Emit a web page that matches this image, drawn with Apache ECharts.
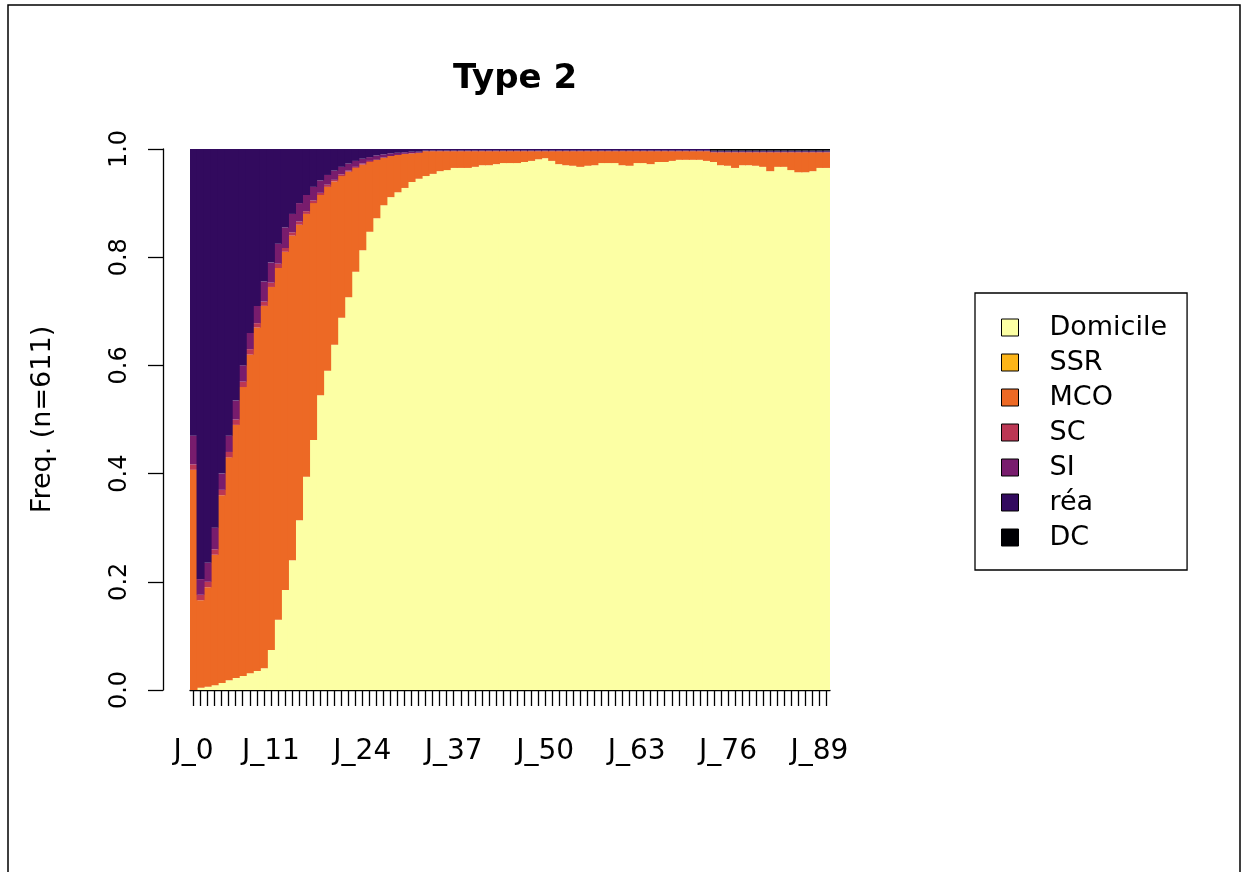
<!DOCTYPE html>
<html><head><meta charset="utf-8">
<script src="https://cdn.jsdelivr.net/npm/echarts@6/dist/echarts.min.js"></script>
<style>html,body{margin:0;padding:0;background:#fff}#c{width:1247px;height:872px}</style>
</head><body><div id="c"></div>
<script>
// categories J_0 ... J_90
const categories = ["J_0","J_1","J_2","J_3","J_4","J_5","J_6","J_7","J_8","J_9",
"J_10","J_11","J_12","J_13","J_14","J_15","J_16","J_17","J_18","J_19",
"J_20","J_21","J_22","J_23","J_24","J_25","J_26","J_27","J_28","J_29",
"J_30","J_31","J_32","J_33","J_34","J_35","J_36","J_37","J_38","J_39",
"J_40","J_41","J_42","J_43","J_44","J_45","J_46","J_47","J_48","J_49",
"J_50","J_51","J_52","J_53","J_54","J_55","J_56","J_57","J_58","J_59",
"J_60","J_61","J_62","J_63","J_64","J_65","J_66","J_67","J_68","J_69",
"J_70","J_71","J_72","J_73","J_74","J_75","J_76","J_77","J_78","J_79",
"J_80","J_81","J_82","J_83","J_84","J_85","J_86","J_87","J_88","J_89","J_90"];
const shownLabels = ["J_0","J_11","J_24","J_37","J_50","J_63","J_76","J_89"];
const yTicks = [0, 0.2, 0.4, 0.6, 0.8, 1.0];

const states = ["Domicile","SSR","MCO","SC","SI","réa","DC"];
const stateColors = ["#FCFFA4","#FCB519","#ED6925","#BB3754","#781C6D","#320A5E","#000004"];

const domicile = [0,0.004,0.006,0.009,0.013,0.018,0.022,0.026,0.031,0.035,
0.040,0.074,0.13,0.185,0.24,0.314,0.394,0.462,0.545,0.59,
0.638,0.688,0.726,0.773,0.813,0.847,0.872,0.896,0.911,0.92,
0.928,0.939,0.945,0.95,0.954,0.959,0.961,0.965,0.965,0.965,
0.967,0.970,0.970,0.972,0.974,0.974,0.974,0.976,0.978,0.981,
0.983,0.978,0.972,0.970,0.969,0.967,0.969,0.970,0.974,0.974,
0.974,0.970,0.969,0.974,0.974,0.972,0.976,0.976,0.978,0.980,
0.980,0.980,0.980,0.978,0.976,0.970,0.969,0.965,0.970,0.970,
0.969,0.967,0.959,0.967,0.967,0.961,0.957,0.957,0.959,0.965,
0.965];
const ssr = [0,0,0,0,0,0,0,0,0,0,
0,0,0,0,0,0,0,0,0,0,
0,0,0,0,0,0,0,0,0,0,
0,0,0,0,0,0,0,0,0,0,
0,0,0,0,0,0,0,0,0,0,
0,0,0,0,0,0,0,0,0,0,
0,0,0,0,0,0,0,0,0,0,
0,0,0,0,0,0,0,0,0,0,
0,0,0,0,0,0,0,0,0,0,
0];
const mco = [0.407,0.162,0.184,0.241,0.347,0.412,0.468,0.534,0.589,0.635,
0.67,0.671,0.65,0.625,0.60,0.546,0.486,0.438,0.37,0.34,
0.302,0.262,0.232,0.192,0.158,0.129,0.108,0.088,0.076,0.069,
0.063,0.053,0.048,0.046,0.042,0.037,0.035,0.031,0.031,0.031,
0.029,0.026,0.026,0.024,0.022,0.022,0.022,0.020,0.018,0.015,
0.013,0.018,0.024,0.026,0.027,0.029,0.027,0.026,0.022,0.022,
0.022,0.026,0.027,0.022,0.022,0.024,0.020,0.020,0.018,0.016,
0.016,0.016,0.016,0.018,0.018,0.024,0.025,0.029,0.024,0.024,
0.025,0.027,0.035,0.027,0.027,0.033,0.037,0.037,0.035,0.029,
0.029];
const sc = [0.01,0.01,0.01,0.01,0.01,0.01,0.01,0.01,0.01,0.008,
0.008,0.008,0.008,0.007,0.006,0.006,0.005,0.005,0.004,0.004,
0.003,0.003,0.002,0.002,0.002,0.002,0,0,0,0,
0,0,0,0,0,0,0,0,0,0,
0,0,0,0,0,0,0,0,0,0,
0,0,0,0,0,0,0,0,0,0,
0,0,0,0,0,0,0,0,0,0,
0,0,0,0,0,0,0,0,0,0,
0,0,0,0,0,0,0,0,0,0,
0];
const si = [0.053,0.029,0.035,0.04,0.03,0.03,0.035,0.03,0.03,0.032,
0.037,0.037,0.037,0.038,0.034,0.034,0.03,0.025,0.023,0.018,
0.017,0.014,0.013,0.011,0.009,0.007,0.008,0.006,0.005,0.004,
0.003,0.003,0.002,0.001,0.001,0.001,0.001,0.001,0.001,0.001,
0.001,0.001,0.001,0.001,0.001,0.001,0.001,0.001,0.001,0.001,
0.001,0.001,0.001,0.001,0.001,0.001,0.001,0.001,0.001,0.001,
0.001,0.001,0.001,0.001,0.001,0.001,0.001,0.001,0.001,0.001,
0.001,0.001,0.001,0.001,0.001,0.001,0.001,0.001,0.001,0.001,
0.001,0.001,0.001,0.001,0.001,0.001,0.001,0.001,0.001,0.001,
0.001];
const rea = [0.53,0.795,0.765,0.70,0.60,0.53,0.465,0.40,0.34,0.29,
0.245,0.21,0.175,0.145,0.12,0.10,0.085,0.07,0.058,0.048,
0.04,0.033,0.027,0.022,0.018,0.015,0.012,0.01,0.008,0.007,
0.006,0.005,0.005,0.003,0.003,0.003,0.003,0.003,0.003,0.003,
0.003,0.003,0.003,0.003,0.003,0.003,0.003,0.003,0.003,0.003,
0.003,0.003,0.003,0.003,0.003,0.003,0.003,0.003,0.003,0.003,
0.003,0.003,0.003,0.003,0.003,0.003,0.003,0.003,0.003,0.003,
0.003,0.003,0.003,0.003,0.002,0.002,0.002,0.002,0.002,0.002,
0.002,0.002,0.002,0.002,0.002,0.002,0.002,0.002,0.002,0.002,
0.002];
const dc = [0,0,0,0,0,0,0,0,0,0,
0,0,0,0,0,0,0,0,0,0,
0,0,0,0,0,0,0,0,0,0,
0,0,0,0,0,0,0,0,0,0,
0,0,0,0,0,0,0,0,0,0,
0,0,0,0,0,0,0,0,0,0,
0,0,0,0,0,0,0,0,0,0,
0,0,0,0,0.003,0.003,0.003,0.003,0.003,0.003,
0.003,0.003,0.003,0.003,0.003,0.003,0.003,0.003,0.003,0.003,
0.003];
const seriesValues = [domicile, ssr, mco, sc, si, rea, dc];

const FONT = "DejaVu Sans";
const chart = echarts.init(document.getElementById('c'), null, {renderer: 'canvas'});
chart.setOption({
  backgroundColor: '#fff',
  animation: false,
  title: {
    text: 'Type 2', left: 510, top: 57, textAlign: 'center',
    textStyle: {fontFamily: FONT, fontSize: 34, fontWeight: 'bold', color: '#000'}
  },
  grid: {left: 190, right: 417, top: 149, bottom: 182, containLabel: false},
  legend: {
    orient: 'vertical', left: 975, top: 293,
    data: states, icon: 'rect', itemWidth: 17, itemHeight: 17, itemGap: 8,
    selectedMode: false,
    padding: [21, 20, 19, 26],
    borderColor: '#000', borderWidth: 1.3,
    itemStyle: {borderColor: '#000', borderWidth: 1},
    textStyle: {fontFamily: FONT, fontSize: 27, color: '#000', padding: [0, 0, 0, 26]}
  },
  xAxis: {
    type: 'category', data: categories, offset: 12,
    axisLine: {show: true, lineStyle: {color: '#000', width: 1.3}},
    axisTick: {show: true, interval: 0, alignWithLabel: true, length: 16, lineStyle: {color: '#000', width: 1.3}},
    axisLabel: {
      interval: (i, v) => shownLabels.indexOf(v) >= 0,
      fontFamily: FONT, fontSize: 28, color: '#000', margin: 36
    },
    splitLine: {show: false}
  },
  yAxis: {
    type: 'value', min: yTicks[0], max: yTicks[yTicks.length - 1], interval: 0.2, offset: 27,
    name: 'Freq. (n=611)', nameLocation: 'middle', nameRotate: 90, nameGap: 107,
    nameTextStyle: {fontFamily: FONT, fontSize: 27, color: '#000'},
    axisLine: {show: true, lineStyle: {color: '#000', width: 1.3}},
    axisTick: {show: true, length: 15, lineStyle: {color: '#000', width: 1.3}},
    axisLabel: {rotate: 90, fontFamily: FONT, fontSize: 24, color: '#000', margin: 31,
      formatter: v => v.toFixed(1)},
    splitLine: {show: false}
  },
  graphic: [{
    type: 'rect', shape: {x: 8, y: 5, width: 1232, height: 900},
    style: {fill: 'none', stroke: '#000', lineWidth: 1.5}, silent: true
  }],
  series: states.map((s, k) => ({
    name: s, type: 'bar', stack: 'all', data: seriesValues[k],
    barWidth: '114%', barGap: '-100%',
    itemStyle: {color: stateColors[k], borderWidth: 0},
    emphasis: {disabled: true}
  }))
});
</script></body></html>
